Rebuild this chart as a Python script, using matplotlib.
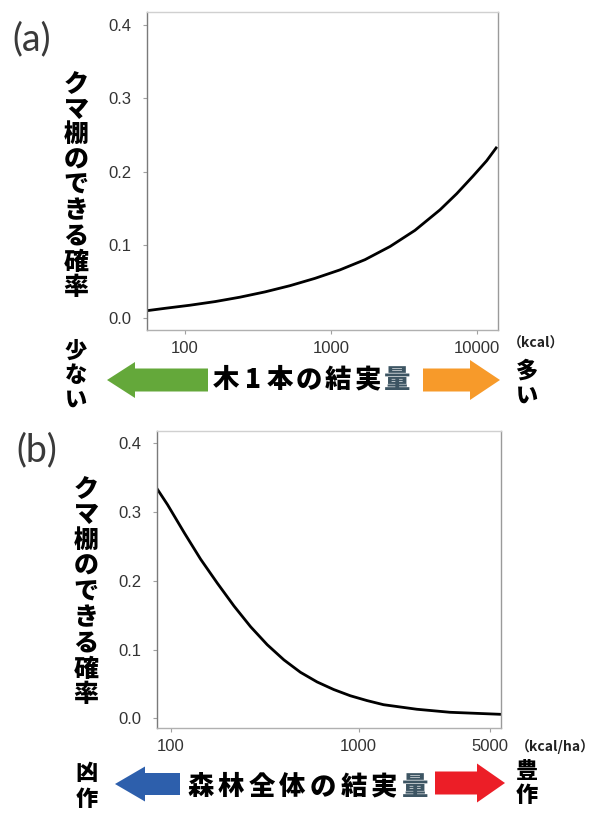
import matplotlib
matplotlib.use("Agg")
import matplotlib.pyplot as plt
from matplotlib.patches import FancyArrow
from matplotlib.ticker import FixedLocator, FixedFormatter, NullLocator

# (a) 木1本の結実量 (kcal) とクマ棚のできる確率
tree_kcal = [55, 73, 108, 161, 238, 353, 524, 777, 1150, 1710, 2540,
             3760, 5580, 7260, 9390, 11650, 13700]
tree_prob = [0.0104, 0.0136, 0.0178, 0.0228, 0.0288, 0.0360, 0.0445, 0.0545,
             0.066, 0.080, 0.098, 0.120, 0.148, 0.170, 0.194, 0.215, 0.234]

# (b) 森林全体の結実量 (kcal/ha)
forest_kcal = [84, 96, 118, 144, 177, 217, 266, 326, 400, 490, 601, 737,
               903, 1108, 1358, 2042, 3069, 5770]
forest_prob = [0.334, 0.310, 0.269, 0.231, 0.196, 0.163, 0.133, 0.107,
               0.085, 0.067, 0.053, 0.042, 0.033, 0.026, 0.020, 0.0134,
               0.009, 0.006]

prob_ticks = [0.0, 0.1, 0.2, 0.3, 0.4]
tree_ticks = [100, 1000, 10000]
forest_ticks = [100, 1000, 5000]

ylabel = "クマ棚のできる確率"
JP = ["Noto Sans CJK JP", "DejaVu Sans"]
W, H = 593, 814

fig = plt.figure(figsize=(W / 100, H / 100), dpi=100)
fig.patch.set_facecolor("white")


def px_axes(left, top, right, bottom):
    return fig.add_axes([left / W, 1 - bottom / H, (right - left) / W, (bottom - top) / H])


def style_axes(ax, xticks, xlim, ylim):
    ax.set_xscale("log")
    ax.set_xlim(*xlim)
    ax.set_ylim(*ylim)
    ax.xaxis.set_major_locator(FixedLocator(xticks))
    ax.xaxis.set_major_formatter(FixedFormatter([str(t) for t in xticks]))
    ax.xaxis.set_minor_locator(NullLocator())
    ax.set_yticks(prob_ticks)
    ax.set_yticklabels([f"{t:.1f}" for t in prob_ticks])
    for side, col in (("left", "#7a7a7a"), ("bottom", "#b0b0b0"),
                      ("right", "#9a9a9a"), ("top", "#d0d0d0")):
        ax.spines[side].set_color(col)
        ax.spines[side].set_linewidth(1.0)
    ax.tick_params(axis="both", direction="out", length=3, width=0.8,
                   color="#a0a0a0", labelcolor="#333333", labelsize=12)
    ax.tick_params(axis="y", pad=8)
    ax.tick_params(axis="x", pad=5)
    for lab in ax.get_xticklabels() + ax.get_yticklabels():
        lab.set_fontfamily("Liberation Sans")


# パネル (a)
ax_a = px_axes(147, 12, 498, 330)
ax_a.plot(tree_kcal, tree_prob, color="black", lw=2.0, solid_capstyle="butt")
style_axes(ax_a, tree_ticks, (54.9, 13930), (-0.016, 0.418))

# パネル (b)
ax_b = px_axes(157, 431, 501, 728)
ax_b.plot(forest_kcal, forest_prob, color="black", lw=2.0, solid_capstyle="butt")
style_axes(ax_b, forest_ticks, (84.3, 5740), (-0.0138, 0.417))

# 注釈用のピクセル座標レイヤー
ov = fig.add_axes([0, 0, 1, 1])
ov.set_xlim(0, W)
ov.set_ylim(H, 0)
ov.axis("off")


def vchars(text, x, y0, step, size):
    # 縦書き: 1文字ずつ下へ並べる
    for i, ch in enumerate(text):
        ov.text(x, y0 + i * step, ch, ha="center", va="center",
                fontsize=size, fontweight="black", color="black", family=JP)


def hchars(text, x0, y, pitch, size, colors):
    # 横書き: 全角は pitch、半角数字はやや詰める
    x = x0
    for ch in text:
        w = pitch if ord(ch) > 255 else pitch * 0.8
        ov.text(x + w / 2, y, ch, ha="center", va="center", fontsize=size,
                fontweight="black", color=colors.get(ch, "black"), family=JP)
        x += w


def arrow(tail, tip, y, width, head_w, head_l, color):
    ov.add_patch(FancyArrow(tail, y, tip - tail, 0, width=width,
                            head_width=head_w, head_length=head_l,
                            length_includes_head=True, color=color, lw=0))


# パネル記号
for label, (x, y) in (("(a)", (32, 39)), ("(b)", (37, 450))):
    ov.text(x, y, label, ha="center", va="center", fontsize=27,
            fontweight="normal", color="#3a3a3a", family=["Lato", "DejaVu Sans"])

# 縦書きの y 軸ラベル
vchars(ylabel, 76, 83, 25.5, 18)
vchars(ylabel, 86, 488, 25.8, 18)

qty_color = {"量": "#3d5563"}

# (a) の x 軸の説明
vchars("少ない", 76, 351, 24.5, 16)
vchars("多い", 527, 371, 25, 16)
arrow(208, 107, 380, 23, 36, 28, "#64a83a")
arrow(423, 500, 380, 23, 40, 30, "#f79a2a")
hchars("木1本の結実量", 211.5, 380, 29.5, 19, qty_color)
ov.text(536, 344, "（kcal）", ha="center", va="center", fontsize=10,
        fontweight="bold", color="#222222", family=JP)

# (b) の x 軸の説明
vchars("凶作", 87, 774, 25, 16)
vchars("豊作", 527, 772, 23, 16)
arrow(180, 115, 784, 22, 35, 30, "#2d5fac")
arrow(435, 505, 783, 23, 39, 28, "#ec1e27")
hchars("森林全体の結実量", 185, 787, 30.7, 19, qty_color)
ov.text(555, 747, "（kcal/ha）", ha="center", va="center", fontsize=10,
        fontweight="bold", color="#222222", family=JP)

fig.savefig("out.png", dpi=100, facecolor="white")
